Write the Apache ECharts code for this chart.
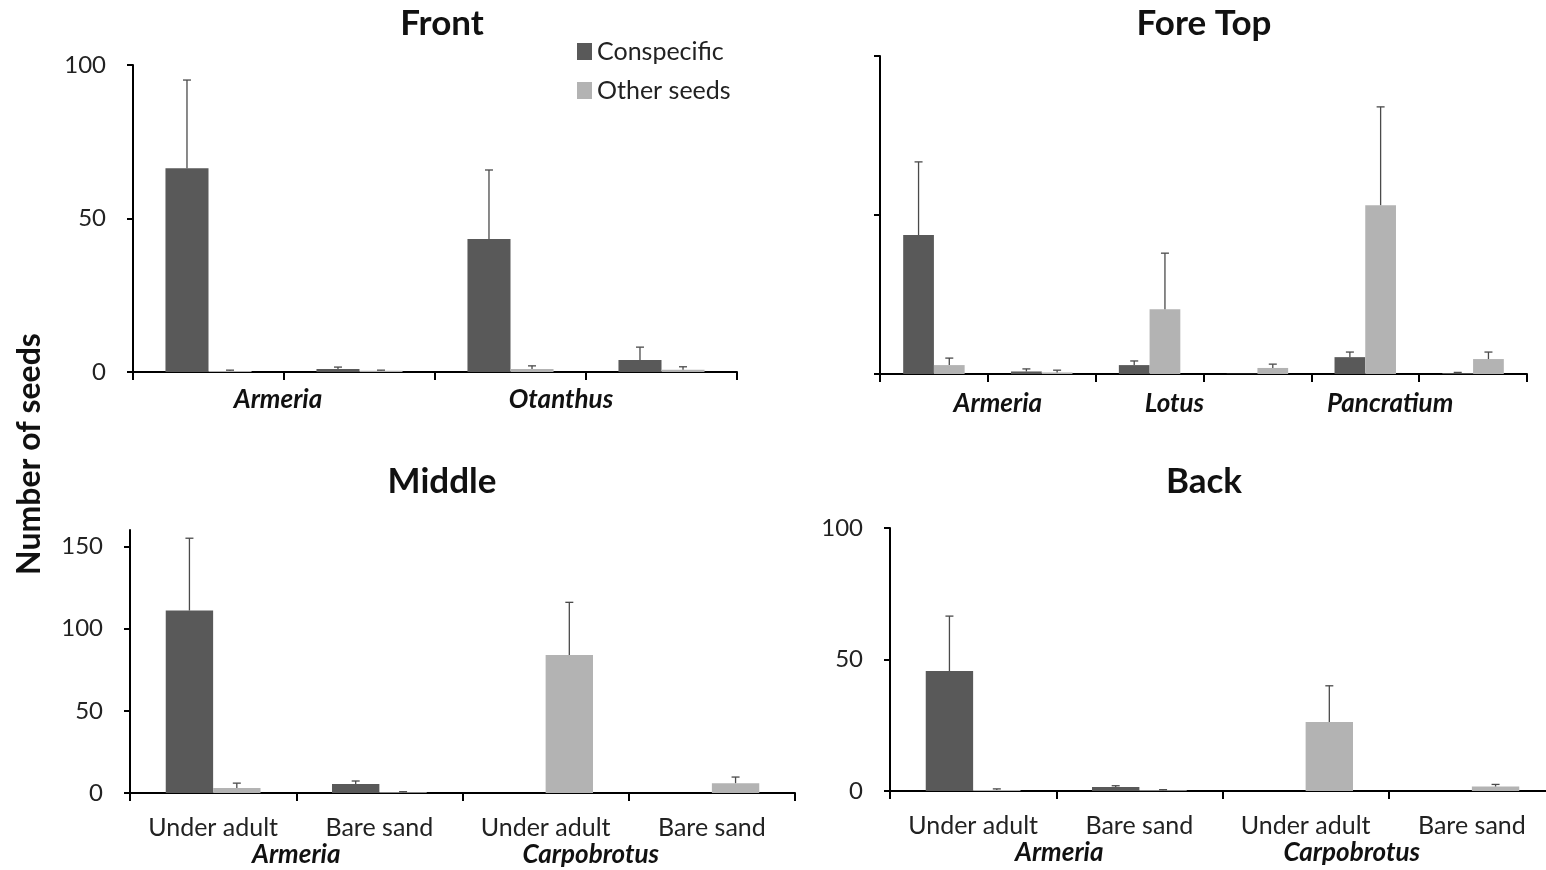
<!DOCTYPE html>
<html><head><meta charset="utf-8">
<script src="https://cdn.jsdelivr.net/npm/echarts@6/dist/echarts.min.js"></script>
<style>html,body{margin:0;padding:0;background:#fff;overflow:hidden}#c{width:1570px;height:870px}</style>
</head><body><div id="c"></div>
<script>
// ---- data ----
const seriesNames = ['Conspecific', 'Other seeds'];
const subCats = ['Under adult', 'Bare sand', 'Under adult', 'Bare sand'];
const foreTopCats = ['Armeria under adult', 'Armeria bare sand', 'Lotus under adult', 'Lotus bare sand', 'Pancratium under adult', 'Pancratium bare sand'];

const frontGroups = ['Armeria', 'Otanthus'];
const frontCon = [66.4, 1.0, 43.3, 3.9];
const frontConErr = [28.7, 0.6, 22.5, 4.2];
const frontOth = [0.3, 0.4, 1.0, 0.7];
const frontOthErr = [0.3, 0.2, 1.0, 1.0];

const foreTopGroups = ['Armeria', 'Lotus', 'Pancratium'];
const foreTopCon = [43.7, 0.8, 2.8, 0.1, 5.3, 0.3];
const foreTopConErr = [23.0, 0.8, 1.3, 0, 1.6, 0.2];
const foreTopOth = [2.8, 0.5, 20.4, 1.9, 53.1, 4.7];
const foreTopOthErr = [2.2, 0.7, 17.6, 1.2, 30.9, 2.2];

const middleGroups = ['Armeria', 'Carpobrotus'];
const middleCon = [111.0, 5.4, 0, 0];
const middleConErr = [44.0, 1.9, 0, 0];
const middleOth = [3.0, 0.5, 84.0, 6.0];
const middleOthErr = [3.0, 0.3, 32.0, 3.7];

const backGroups = ['Armeria', 'Carpobrotus'];
const backCon = [45.6, 1.5, 0, 0];
const backConErr = [20.9, 0.5, 0, 0];
const backOth = [0.4, 0.3, 26.2, 1.7];
const backOthErr = [0.4, 0.2, 13.8, 0.8];

const yTicksFront = [0, 100, 50];   // min, max, interval
const yTicksForeTop = [0, 100, 50];
const yTicksMiddle = [0, 160, 50];
const yTicksBack = [0, 100, 50];

// ---- style ----
const FONT = 'Lato';
const C_CON = '#595959';
const C_OTH = '#b3b3b3';
const GAP = 0.43;
const SUB_FS = 25, GROUP_FS = 26, TICK_FS = 24;

const chart = echarts.init(document.getElementById('c'));

const panels = [
  {title: 'Front', tx: 437, ty: 1, grid: {left: 133, width: 604, top: 65, height: 307},
   cats: subCats, groups: frontGroups, groupShift: [-6, -25], showSub: false, groupMargin: 15, yt: yTicksFront, yLabels: true,
   con: frontCon, conErr: frontConErr, oth: frontOth, othErr: frontOthErr},
  {title: 'Fore Top', tx: 1199, ty: 1, grid: {left: 880, width: 647, top: 56, height: 318},
   cats: foreTopCats, groups: foreTopGroups, groupShift: [10, -29, -29], showSub: false, groupMargin: 17, yt: yTicksForeTop, yLabels: false,
   con: foreTopCon, conErr: foreTopConErr, oth: foreTopOth, othErr: foreTopOthErr},
  {title: 'Middle', tx: 437, ty: 459, grid: {left: 130, width: 665, top: 530, height: 263},
   cats: subCats, groups: middleGroups, groupShift: [0, -38], showSub: true, subMargin: 22, groupMargin: 49, yt: yTicksMiddle, yLabels: true,
   con: middleCon, conErr: middleConErr, oth: middleOth, othErr: middleOthErr},
  {title: 'Back', tx: 1199, ty: 459, grid: {left: 890, width: 665, top: 528, height: 263},
   cats: subCats, groups: backGroups, groupShift: [3, -37], showSub: true, subMargin: 22, groupMargin: 49, yt: yTicksBack, yLabels: true,
   con: backCon, conErr: backConErr, oth: backOth, othErr: backOthErr}
];

function errRender(side) {
  return function (params, api) {
    const i = api.value(0), v = api.value(1), e = api.value(2);
    if (!(e > 0)) return null;
    const base = api.coord([i, v]);
    const top = api.coord([i, v + e]);
    const cw = api.size([1, 0])[0];
    const bw = cw * (1 - GAP) / 2;
    const x = base[0] + side * bw / 2;
    const cap = 4;
    const st = {stroke: '#4a4a4a', lineWidth: 1.3};
    return {type: 'group', children: [
      {type: 'line', shape: {x1: x, y1: base[1], x2: x, y2: top[1]}, style: st},
      {type: 'line', shape: {x1: x - cap, y1: top[1], x2: x + cap, y2: top[1]}, style: st}
    ]};
  };
}

const grids = [], xAxes = [], yAxes = [], series = [], titles = [];
panels.forEach((p, gi) => {
  grids.push(Object.assign({containLabel: false}, p.grid));
  titles.push({text: p.title, left: p.tx, top: p.ty, textAlign: 'center',
    textStyle: {fontFamily: FONT, fontSize: 35, fontWeight: 'bold', color: '#111'}});
  const xi = xAxes.length;
  xAxes.push({type: 'category', gridIndex: gi, data: p.cats, position: 'bottom',
    axisLine: {lineStyle: {color: '#000', width: 2}},
    axisTick: {show: true, length: 8, interval: 0, lineStyle: {color: '#000', width: 2}},
    axisLabel: {show: p.showSub, interval: 0, hideOverlap: false, margin: p.subMargin || 8, fontFamily: FONT, fontSize: SUB_FS, color: '#222'}
  });
  const rich = {};
  p.groupShift.forEach((s, k) => {
    rich['g' + k] = {fontFamily: FONT, fontSize: GROUP_FS, fontWeight: 'bold', fontStyle: 'italic', color: '#111',
      padding: s >= 0 ? [0, 0, 0, 2 * s] : [0, -2 * s, 0, 0]};
  });
  xAxes.push({type: 'category', gridIndex: gi, data: p.groups, position: 'bottom',
    axisLine: {show: false}, axisTick: {show: false},
    axisLabel: {interval: 0, hideOverlap: false, margin: p.groupMargin, fontFamily: FONT, fontSize: GROUP_FS, fontWeight: 'bold', fontStyle: 'italic', color: '#111',
      formatter: (val, idx) => '{g' + idx + '|' + val + '}', rich: rich}
  });
  const yi = yAxes.length;
  yAxes.push({type: 'value', gridIndex: gi, min: p.yt[0], max: p.yt[1], interval: p.yt[2],
    splitLine: {show: false},
    axisLine: {show: true, lineStyle: {color: '#000', width: 2}},
    axisTick: {show: true, length: 6, lineStyle: {color: '#000', width: 2}},
    axisLabel: {show: p.yLabels, margin: 27, fontFamily: FONT, fontSize: TICK_FS, color: '#222'}
  });
  series.push({name: seriesNames[0], type: 'bar', xAxisIndex: xi, yAxisIndex: yi, data: p.con,
    barGap: '0%', barCategoryGap: (GAP * 100) + '%', itemStyle: {color: C_CON}, silent: true});
  series.push({name: seriesNames[1], type: 'bar', xAxisIndex: xi, yAxisIndex: yi, data: p.oth,
    barGap: '0%', barCategoryGap: (GAP * 100) + '%', itemStyle: {color: C_OTH}, silent: true});
  series.push({type: 'custom', xAxisIndex: xi, yAxisIndex: yi, renderItem: errRender(-1),
    data: p.con.map((v, i) => [i, v, p.conErr[i]]), encode: {x: 0, y: 1}, z: 5, silent: true});
  series.push({type: 'custom', xAxisIndex: xi, yAxisIndex: yi, renderItem: errRender(1),
    data: p.oth.map((v, i) => [i, v, p.othErr[i]]), encode: {x: 0, y: 1}, z: 5, silent: true});
});

chart.setOption({
  animation: false,
  backgroundColor: '#fff',
  title: titles,
  legend: {data: seriesNames, orient: 'vertical', left: 572, top: 34, itemWidth: 15, itemHeight: 17, itemGap: 14,
    icon: 'rect', textStyle: {fontFamily: FONT, fontSize: 25, color: '#222'}},
  grid: grids,
  xAxis: xAxes,
  yAxis: yAxes,
  series: series,
  graphic: [{type: 'text', x: 30, y: 454, rotation: Math.PI / 2,
    style: {text: 'Number of seeds', fontFamily: FONT, fontSize: 32, fontWeight: 'bold', fill: '#111',
      textAlign: 'center', textVerticalAlign: 'middle'}}]
});
</script>
</body></html>
